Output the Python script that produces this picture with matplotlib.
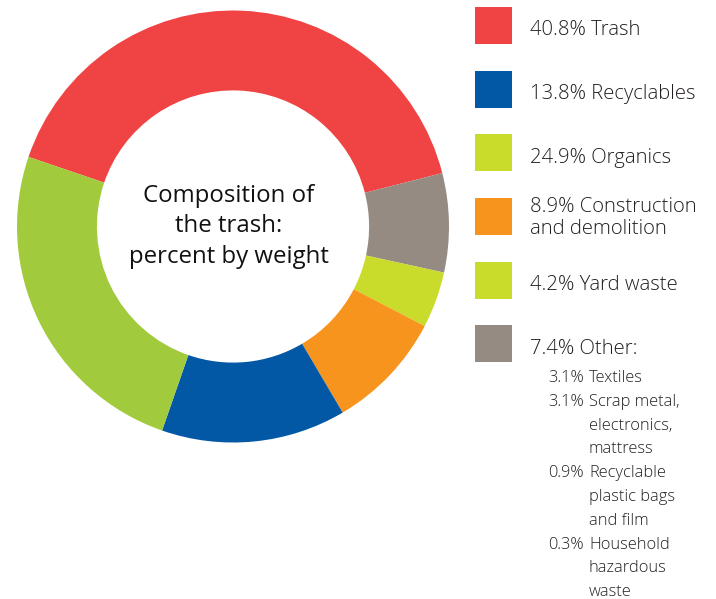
import matplotlib
matplotlib.use("Agg")
import matplotlib.pyplot as plt
from matplotlib.patches import Rectangle

# Data (legend order)
categories = ["Trash", "Recyclables", "Organics", "Construction\nand demolition", "Yard waste", "Other:"]
percents = [40.8, 13.8, 24.9, 8.9, 4.2, 7.4]
pie_colors = ["#EF4443", "#0358A5", "#A1CB3C", "#F7941E", "#CADC2B", "#958B83"]
legend_colors = ["#EF4443", "#0358A5", "#CADC2B", "#F7941E", "#CADC2B", "#958B83"]
# order of slices clockwise from the left
pie_order = [0, 5, 4, 3, 1, 2]

other_pct = ["3.1%", "3.1%", "0.9%", "0.3%"]
other_items = ["Textiles", "Scrap metal,\nelectronics,\nmattress", "Recyclable\nplastic bags\nand film", "Household\nhazardous\nwaste"]

center_text = "Composition of\nthe trash:\npercent by weight"

W, H = 716, 599
fig = plt.figure(figsize=(W / 100, H / 100), dpi=100)
fig.patch.set_facecolor("white")

cx, cy, R = 233, 226.5, 216
ax = fig.add_axes([(cx - R) / W, (H - cy - R) / H, 2 * R / W, 2 * R / H])
vals = [percents[i] for i in pie_order]
cols = [pie_colors[i] for i in pie_order]
ax.pie(vals, colors=cols, startangle=161.2, counterclock=False,
       wedgeprops=dict(width=0.37, edgecolor="none", linewidth=0))
ax.set_xlim(-1, 1)
ax.set_ylim(-1, 1)
ax.set_aspect("equal")
ax.axis("off")
ax.text(-0.02, 0.0, center_text, ha="center", va="center", fontsize=17.3,
        family="Open Sans", color="#111111", linespacing=1.36)

# overlay axes in pixel coordinates for the legend
lax = fig.add_axes([0, 0, 1, 1])
lax.set_xlim(0, W)
lax.set_ylim(H, 0)
lax.axis("off")

box_x, box_w = 475, 37
box_tops = [6.7, 71, 134, 198, 262, 325]
txt_x = 530
fs_main = 14.6
tcol = "#231F20"
for i, (cat, p) in enumerate(zip(categories, percents)):
    top = box_tops[i]
    lax.add_patch(Rectangle((box_x, top), box_w, box_w, facecolor=legend_colors[i], edgecolor="none"))
    lines = f"{p}% {cat}".split("\n")
    base = top + 28.5 if len(lines) == 1 else top + 14
    for j, ln in enumerate(lines):
        lax.text(txt_x, base + j * 22, ln, ha="left", va="baseline", fontsize=fs_main,
                 family="Open Sans", fontweight="light", color=tcol)

# Other breakdown
y = 382
step = 23.8
for pct, item in zip(other_pct, other_items):
    lines = item.split("\n")
    lax.text(548, y, pct, ha="left", va="baseline", fontsize=11.8, family="Open Sans",
             fontweight="light", color=tcol)
    for j, ln in enumerate(lines):
        lax.text(589, y + j * step, ln, ha="left", va="baseline", fontsize=11.8,
                 family="Open Sans", fontweight="light", color=tcol)
    y += step * len(lines)

fig.savefig("out.png", dpi=100, facecolor="white")
